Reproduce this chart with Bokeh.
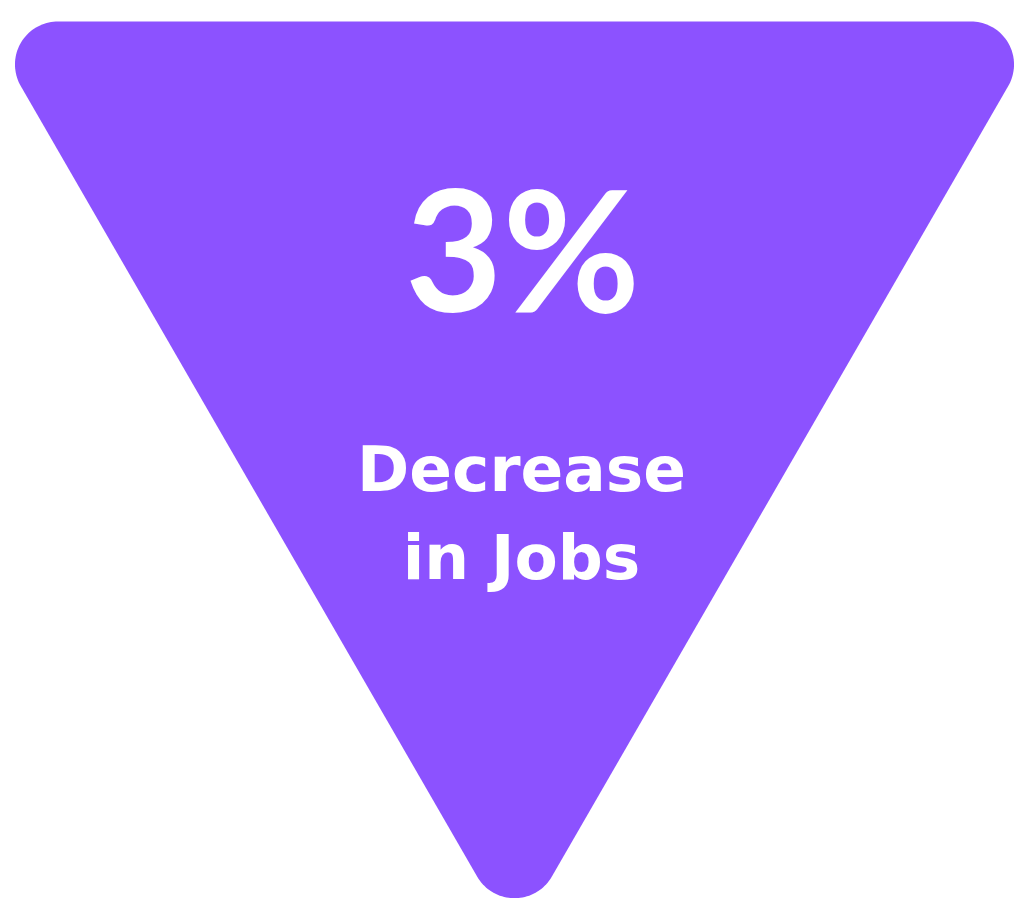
import numpy as np
from bokeh.plotting import figure
from bokeh.models import Range1d
from bokeh.core.properties import value
from bokeh.embed import file_html
from bokeh.resources import INLINE

# ---- data ----
headline = ["3%"]
caption_lines = ["Decrease", "in Jobs"]
fill_color = "#8C52FF"

# ---- geometry of the rounded inverted triangle (layout, not data) ----
W, H = 1014, 898
cx = 514.0          # horizontal centre
top_y = 21.0        # top edge
side = 1062.0       # side of the sharp equilateral triangle
r = 43.0            # corner radius
V = np.array([[cx - side / 2, top_y],
              [cx + side / 2, top_y],
              [cx, top_y + side * np.sqrt(3) / 2]])
centroid = V.mean(axis=0)
xs, ys = [], []
arcs = [(150, 270), (270, 390), (390, 510)]
for (vx, vy), (a0, a1) in zip(V, arcs):
    d = centroid - np.array([vx, vy])
    d = d / np.linalg.norm(d)
    c = np.array([vx, vy]) + 2 * r * d
    ang = np.radians(np.linspace(a0, a1, 40))
    xs.extend(c[0] + r * np.cos(ang))
    ys.extend(c[1] + r * np.sin(ang))

p = figure(width=W, height=H, output_backend="svg", toolbar_location=None,
           x_range=Range1d(0, W), y_range=Range1d(H, 0), min_border=0)
p.axis.visible = False
p.grid.visible = False
p.outline_line_color = None
p.background_fill_color = "white"
p.border_fill_color = "white"

p.patch(xs, ys, fill_color=fill_color, line_color=None)

p.text(x=[522], y=[246], text=headline, text_align="center",
       text_baseline="alphabetic", text_color="white",
       text_font=value("Lato"), text_font_style="bold",
       text_font_size="168px")

p.text(x=[521, 521], y=[469, 557], text=caption_lines, text_align="center",
       text_baseline="alphabetic", text_color="white",
       text_font=value("DejaVu Sans"), text_font_style="bold",
       text_font_size="63px")

open("out.html", "w").write(file_html(p, INLINE))
